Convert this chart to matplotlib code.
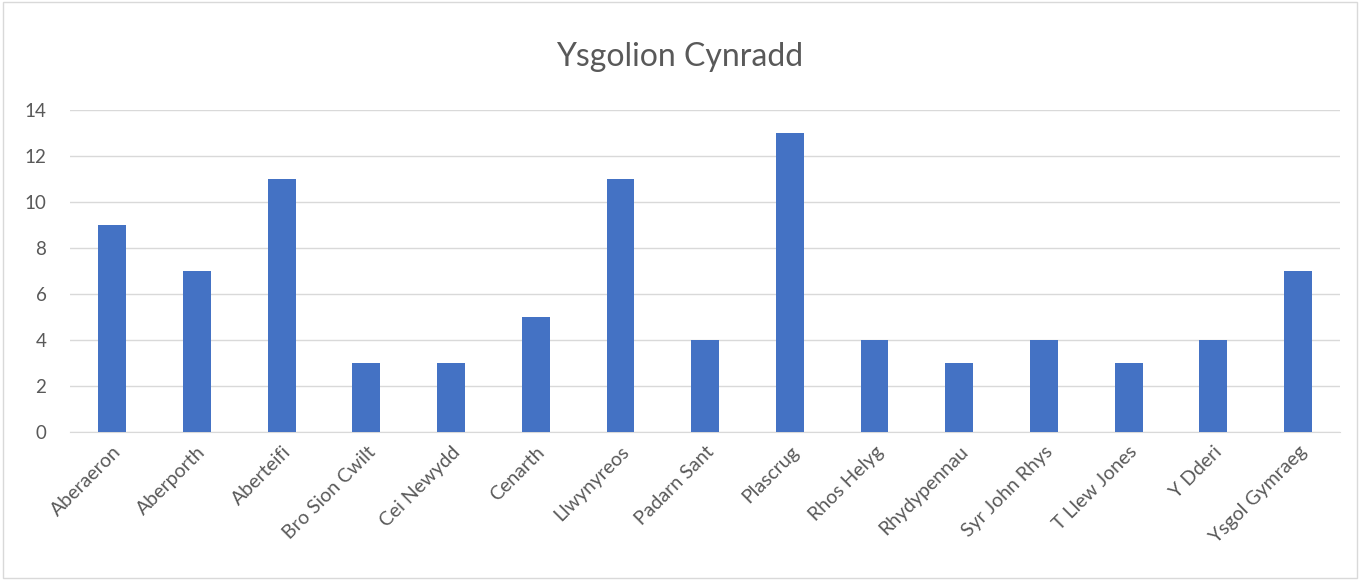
import matplotlib.pyplot as plt
import numpy as np

plt.rcParams['font.family'] = ['Lato', 'DejaVu Sans']

schools = ["Aberaeron", "Aberporth", "Aberteifi", "Bro Sion Cwilt", "Cei Newydd",
           "Cenarth", "Llwynyreos", "Padarn Sant", "Plascrug", "Rhos Helyg",
           "Rhydypennau", "Syr John Rhys", "T Llew Jones", "Y Dderi", "Ysgol Gymraeg"]
counts = [9, 7, 11, 3, 3, 5, 11, 4, 13, 4, 3, 4, 3, 4, 7]
yticks = [0, 2, 4, 6, 8, 10, 12, 14]

text_col = '#595959'
grid_col = '#D9D9D9'

fig = plt.figure(figsize=(13.6, 5.8), dpi=100)
ax = fig.add_axes([0.0515, 0.255, 0.934, 0.555])

x = np.arange(len(schools))
ax.bar(x, counts, width=0.33, color='#4472C4', zorder=3)

ax.set_xlim(-0.5, len(schools) - 0.5)
ax.set_ylim(0, 14)
ax.set_yticks(yticks)
ax.set_xticks(x)
ax.set_xticklabels(schools, rotation=45, ha='right', rotation_mode='anchor')
ax.yaxis.grid(True, color=grid_col, linewidth=1, zorder=0)
ax.tick_params(axis='both', colors=text_col, length=0)
ax.tick_params(axis='x', pad=8, labelsize=14)
ax.tick_params(axis='y', pad=17, labelsize=13.5)
for s in ['top', 'right', 'left']:
    ax.spines[s].set_visible(False)
ax.spines['bottom'].set_color(grid_col)

fig.text(0.5, 0.902, 'Ysgolion Cynradd', ha='center', va='center',
         fontsize=23, color=text_col)

# light border around the whole chart
fig.patches.append(plt.Rectangle((0.002, 0.003), 0.996, 0.994, transform=fig.transFigure,
                                 fill=False, edgecolor=grid_col, linewidth=1))

fig.savefig('out.png', dpi=100)
